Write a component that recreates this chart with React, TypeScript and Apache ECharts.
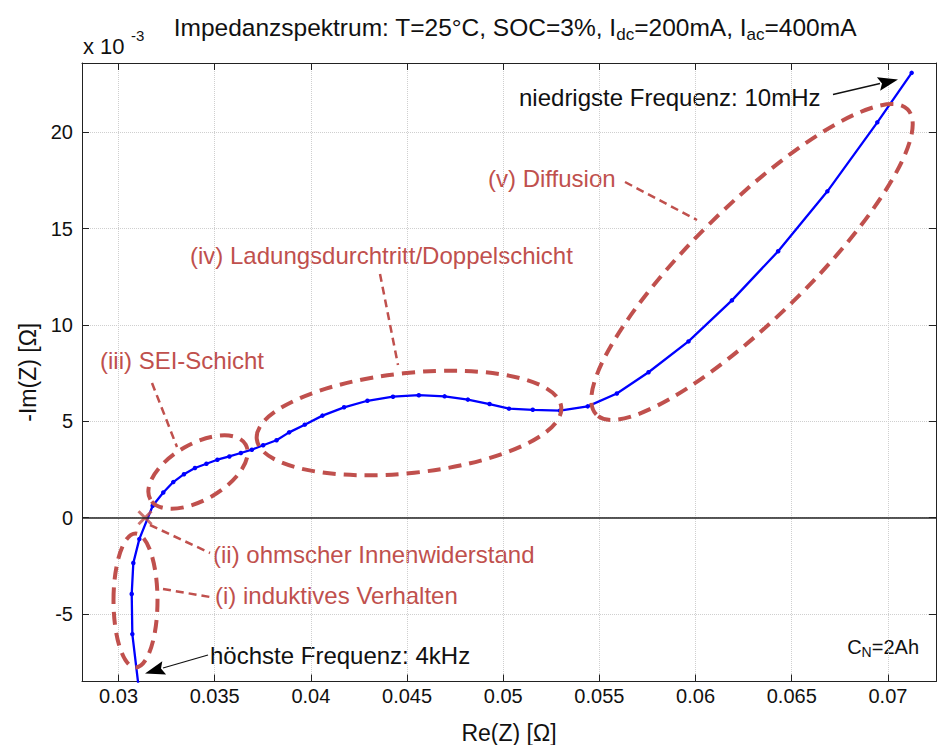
import { useEffect, useRef } from "react";
import * as echarts from "echarts";

// Nyquist data: Re(Z) in Ohm, -Im(Z) in 1e-3 Ohm (high frequency -> low frequency)
const reZ = [
  0.03107, 0.030717, 0.030685, 0.030768, 0.03108, 0.031776, 0.032326, 0.032845,
  0.033401, 0.033972, 0.034569, 0.03514, 0.035763, 0.03636, 0.036931, 0.037518,
  0.038214, 0.038868, 0.039683, 0.040602, 0.041724, 0.042939, 0.044268, 0.045612,
  0.046952, 0.048162, 0.049289, 0.050301, 0.051536, 0.052949, 0.054392, 0.055908,
  0.057554, 0.059631, 0.061889, 0.064293, 0.066853, 0.069449, 0.071235,
];
const negImZ = [
  -9.0, -6.04, -3.96, -2.35, -1.11, 0.62, 1.31, 1.85,
  2.26, 2.58, 2.8, 3.01, 3.18, 3.36, 3.53, 3.76,
  4.02, 4.43, 4.83, 5.3, 5.73, 6.07, 6.28, 6.36,
  6.3, 6.13, 5.9, 5.66, 5.6, 5.56, 5.78, 6.45,
  7.55, 9.15, 11.28, 13.83, 16.94, 20.52, 23.09,
];
// ohmic resistance marker (zero crossing)
const ohmicRe = [0.031376];
const ohmicIm = [0];

const xRange = [0.0281, 0.0725];
const yRange = [-8.5, 23.6];

const RED = "#c0504d";
const FONT = "'Liberation Sans', Arial, sans-serif";

export default function App() {
  const ref = useRef<HTMLDivElement>(null);
  useEffect(() => {
    document.body.style.margin = "0";
    const chart = echarts.init(ref.current!, null, { renderer: "svg" });
    const dashEll = { fill: "none", stroke: RED, lineWidth: 4, lineDash: [13, 8] };
    const dashLine = { stroke: RED, lineWidth: 2.5, lineDash: [8, 5] };
    const redText = (text: string, x: number, y: number) => ({
      type: "text",
      x,
      y,
      style: { text, fill: RED, font: `24px ${FONT}`, textVerticalAlign: "middle" },
    });
    const axisCommon = {
      axisLine: { show: true, onZero: false, lineStyle: { color: "#222", width: 1 } },
      axisTick: { show: true, inside: true, length: 7, lineStyle: { color: "#222" } },
    };
    chart.setOption({
      animation: false,
      backgroundColor: "#fff",
      grid: { left: 82, right: 2, top: 63, bottom: 63.5, containLabel: false, outerBoundsMode: "none" },
      xAxis: [
        {
          type: "value",
          min: xRange[0],
          max: xRange[1],
          splitNumber: 9,
          ...axisCommon,
          axisLabel: {
            color: "#111",
            fontSize: 20,
            fontFamily: FONT,
            margin: 4,
            showMinLabel: false,
            showMaxLabel: false,
            formatter: (v: number) => String(+v.toFixed(4)),
          },
          splitLine: { show: true, lineStyle: { color: "#cfcfcf", type: "dotted", width: 1 } },
          name: "Re(Z) [Ω]",
          nameLocation: "middle",
          nameGap: 40,
          nameTextStyle: { color: "#111", fontSize: 23, fontFamily: FONT },
        },
        {
          type: "value",
          position: "top",
          min: xRange[0],
          max: xRange[1],
          splitNumber: 9,
          ...axisCommon,
          axisLabel: { show: false },
          splitLine: { show: false },
        },
      ],
      yAxis: [
        {
          type: "value",
          min: yRange[0],
          max: yRange[1],
          splitNumber: 7,
          ...axisCommon,
          axisLabel: {
            color: "#111",
            fontSize: 20,
            fontFamily: FONT,
            margin: 9,
            showMinLabel: false,
            showMaxLabel: false,
          },
          splitLine: { show: true, lineStyle: { color: "#cfcfcf", type: "dotted", width: 1 } },
          name: "-Im(Z) [Ω]",
          nameLocation: "middle",
          nameGap: 40,
          nameTextStyle: { color: "#111", fontSize: 23, fontFamily: FONT },
        },
        {
          type: "value",
          position: "right",
          min: yRange[0],
          max: yRange[1],
          splitNumber: 7,
          ...axisCommon,
          axisLabel: { show: false },
          splitLine: { show: false },
        },
      ],
      series: [
        {
          type: "line",
          data: reZ.map((x, i) => [x, negImZ[i]]),
          clip: true,
          symbol: "circle",
          symbolSize: 4.5,
          showSymbol: true,
          lineStyle: { color: "#0000ff", width: 2.3 },
          itemStyle: { color: "#0000ff" },
          markLine: {
            silent: true,
            symbol: ["none", "none"],
            label: { show: false },
            lineStyle: { color: "#222", width: 1.5, type: "solid" },
            data: [{ yAxis: 0 }],
          },
          z: 3,
        },
        {
          type: "scatter",
          data: ohmicRe.map((x, i) => [x, ohmicIm[i]]),
          symbol: "path://M0,0L10,10M10,0L0,10",
          symbolSize: 13,
          itemStyle: { color: "none", borderColor: RED, borderWidth: 3 },
          z: 4,
        },
      ],
      graphic: [
        // title
        {
          type: "text",
          x: 515,
          y: 27,
          style: {
            text: "Impedanzspektrum: T=25°C, SOC=3%, I{s|dc}=200mA, I{s|ac}=400mA",
            font: `24.5px ${FONT}`,
            fill: "#111",
            textAlign: "center",
            textVerticalAlign: "middle",
            rich: {
              s: { fontSize: 17, fontFamily: FONT, fill: "#111", padding: [14, 0, 0, 0] },
            },
          },
        },
        {
          type: "text",
          x: 83,
          y: 46,
          style: { text: "x 10", font: `22px ${FONT}`, fill: "#111", textVerticalAlign: "middle" },
        },
        {
          type: "text",
          x: 131,
          y: 35,
          style: { text: "-3", font: `15px ${FONT}`, fill: "#111", textVerticalAlign: "middle" },
        },
        // ellipses
        { type: "ellipse", x: 135.5, y: 600.5, shape: { cx: 0, cy: 0, rx: 22, ry: 67 }, style: dashEll, z: 10 },
        { type: "ellipse", x: 198, y: 472, rotation: (30 * Math.PI) / 180, shape: { cx: 0, cy: 0, rx: 55, ry: 28 }, style: dashEll, z: 10 },
        { type: "ellipse", x: 409, y: 423, rotation: (6 * Math.PI) / 180, shape: { cx: 0, cy: 0, rx: 153, ry: 50 }, style: dashEll, z: 10 },
        { type: "ellipse", x: 752, y: 262, rotation: (44.4 * Math.PI) / 180, shape: { cx: 0, cy: 0, rx: 218, ry: 57 }, style: dashEll, z: 10 },
        // leader lines
        { type: "line", shape: { x1: 625, y1: 182, x2: 697, y2: 220 }, style: dashLine, z: 10 },
        { type: "line", shape: { x1: 380, y1: 274, x2: 398, y2: 365 }, style: dashLine, z: 10 },
        { type: "line", shape: { x1: 152, y1: 383, x2: 177, y2: 447 }, style: dashLine, z: 10 },
        { type: "line", shape: { x1: 150, y1: 525, x2: 210, y2: 553 }, style: dashLine, z: 10 },
        { type: "line", shape: { x1: 163, y1: 589, x2: 210, y2: 597 }, style: dashLine, z: 10 },
        // red labels
        redText("(v) Diffusion", 488, 178),
        redText("(iv) Ladungsdurchtritt/Doppelschicht", 190, 255),
        redText("(iii) SEI-Schicht", 100, 360),
        redText("(ii) ohmscher Innenwiderstand", 213, 554),
        redText("(i) induktives Verhalten", 215, 595),
        // black labels + arrows
        {
          type: "text",
          x: 519,
          y: 97,
          style: { text: "niedrigste Frequenz: 10mHz", font: `24px ${FONT}`, fill: "#111", textVerticalAlign: "middle" },
        },
        { type: "line", shape: { x1: 833, y1: 94.5, x2: 880, y2: 83.5 }, style: { stroke: "#111", lineWidth: 1.3 }, z: 10 },
        {
          type: "polygon",
          shape: { points: [[898, 79.5], [880.1, 90.8], [882, 83.5], [876.9, 77.2]] },
          style: { fill: "#000" },
          z: 10,
        },
        {
          type: "text",
          x: 210,
          y: 655,
          style: { text: "höchste Frequenz: 4kHz", font: `24px ${FONT}`, fill: "#111", textVerticalAlign: "middle" },
        },
        { type: "line", shape: { x1: 208, y1: 655, x2: 163, y2: 668 }, style: { stroke: "#111", lineWidth: 1.3 }, z: 10 },
        {
          type: "polygon",
          shape: { points: [[145, 673.5], [162.3, 661.2], [161, 668.5], [166.1, 674.6]] },
          style: { fill: "#000" },
          z: 10,
        },
        {
          type: "text",
          x: 919,
          y: 647,
          style: {
            text: "C{s|N}=2Ah",
            font: `20px ${FONT}`,
            fill: "#111",
            textAlign: "right",
            textVerticalAlign: "middle",
            rich: { s: { fontSize: 14, fontFamily: FONT, fill: "#111", padding: [10, 0, 0, 0] } },
          },
        },
      ],
    });
    return () => chart.dispose();
  }, []);
  return <div ref={ref} style={{ width: 938, height: 745 }} />;
}
